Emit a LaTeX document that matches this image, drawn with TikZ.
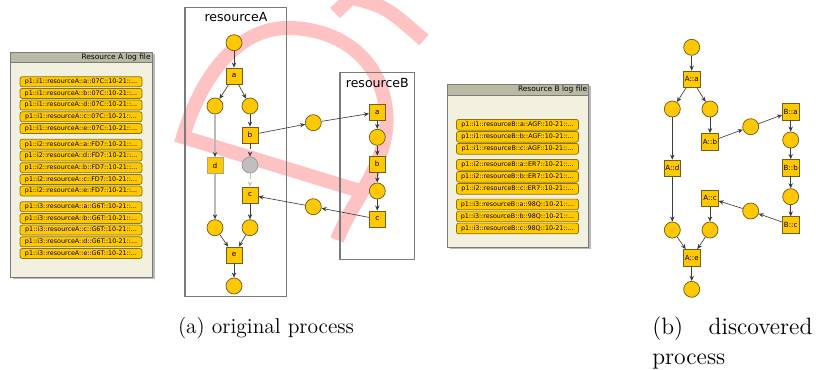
\documentclass[tikz,border=0pt]{standalone}
\usepackage{fontspec}
\setsansfont{DejaVu Sans}
\usepackage{tikz}
\usetikzlibrary{arrows.meta}
\definecolor{gold}{HTML}{FFC800}
\definecolor{place_border}{HTML}{6F5E1E}
\definecolor{entry_border}{HTML}{8A7410}
\definecolor{arc_gray}{HTML}{3C3C3C}
\definecolor{box_gray}{HTML}{7A7A7A}
\definecolor{log_back}{HTML}{F2F0DF}
\definecolor{log_head}{HTML}{B9B9A4}
\definecolor{wm_red}{HTML}{FFC2C2}

\begin{document}
\begin{tikzpicture}[x=0.55pt,y=-0.55pt,
    place/.style={circle,draw=place_border,fill=gold,minimum size=8.8pt,inner sep=0pt},
    trans/.style={rectangle,draw=place_border,fill=gold,minimum size=8.8pt,inner sep=0pt,font=\sffamily\fontsize{4}{4}\selectfont},
    dtrans/.style={trans,minimum size=9pt,font=\sffamily\fontsize{3.9}{4}\selectfont},
    arc/.style={-{Stealth[length=2.8pt,width=2.4pt]},draw=arc_gray,line width=0.35pt},
    lightarc/.style={-{Stealth[length=2.8pt,width=2.4pt,color=arc_gray]},draw=gray!55,line width=0.9pt},
    logline/.style={draw=entry_border,fill=gold,rounded corners=1.2pt,minimum width=67.1pt,minimum height=5.5pt,inner sep=0pt,font=\sffamily\fontsize{3.5}{4}\selectfont},
    loghead/.style={anchor=east,inner sep=0pt,font=\sffamily\fontsize{4.1}{5}\selectfont},
    boxtitle/.style={inner sep=0pt,font=\sffamily\fontsize{6.9}{8}\selectfont},
    stamp/.style={wm_red,line width=7.7pt}]
  \useasboundingbox (0,0) rectangle (816,370);

  % red stamp behind the drawing
  \draw[stamp] (337,240) .. controls (352,200) and (392,160) .. (386,110)
    .. controls (380,55) and (335,28) .. (288,28)
    .. controls (235,28) and (200,80) .. (183,137) -- (360,191);
  \draw[stamp] (335,13) -- (353,-4);
  \draw[stamp] (345,-4) .. controls (385,6) .. (424,40);

  % log file of resource A
  \fill[gray!55] (12.5,54.5) rectangle (154.5,279.5);
  \draw[box_gray,fill=log_back] (10,52) rectangle (152,277);
  \draw[box_gray,fill=log_head] (10,52) rectangle (152,62);
  \node[loghead] (hla) at (151,57.3) {Resource A log file};
  \node[logline] (la1) at (81,81.7) {p1::i1::resourceA::a::07C::10-21::...};
  \node[logline] (la2) at (81,93.4) {p1::i1::resourceA::b::07C::10-21::...};
  \node[logline] (la3) at (81,105.1) {p1::i1::resourceA::d::07C::10-21::...};
  \node[logline] (la4) at (81,116.8) {p1::i1::resourceA::c::07C::10-21::...};
  \node[logline] (la5) at (81,128.5) {p1::i1::resourceA::e::07C::10-21::...};
  \node[logline] (la6) at (81,144.3) {p1::i2::resourceA::a::FD7::10-21::...};
  \node[logline] (la7) at (81,156) {p1::i2::resourceA::d::FD7::10-21::...};
  \node[logline] (la8) at (81,167.7) {p1::i2::resourceA::b::FD7::10-21::...};
  \node[logline] (la9) at (81,179.4) {p1::i2::resourceA::c::FD7::10-21::...};
  \node[logline] (la10) at (81,191.1) {p1::i2::resourceA::e::FD7::10-21::...};
  \node[logline] (la11) at (81,206.7) {p1::i3::resourceA::a::G6T::10-21::...};
  \node[logline] (la12) at (81,218.4) {p1::i3::resourceA::b::G6T::10-21::...};
  \node[logline] (la13) at (81,230.1) {p1::i3::resourceA::c::G6T::10-21::...};
  \node[logline] (la14) at (81,241.8) {p1::i3::resourceA::d::G6T::10-21::...};
  \node[logline] (la15) at (81,253.5) {p1::i3::resourceA::e::G6T::10-21::...};

  % log file of resource B
  \fill[gray!55] (449.5,86.5) rectangle (591,249.5);
  \draw[box_gray,fill=log_back] (447,84) rectangle (588.5,247);
  \draw[box_gray,fill=log_head] (447,84) rectangle (588.5,95);
  \node[loghead] (hlb) at (587.5,89.5) {Resource B log file};
  \node[logline,minimum height=5.9pt] (lb1) at (517.5,124.8) {p1::i1::resourceB::a::AGF::10-21::...};
  \node[logline,minimum height=5.9pt] (lb2) at (517.5,136.8) {p1::i1::resourceB::b::AGF::10-21::...};
  \node[logline,minimum height=5.9pt] (lb3) at (517.5,148.8) {p1::i1::resourceB::c::AGF::10-21::...};
  \node[logline,minimum height=5.9pt] (lb4) at (517.5,164.8) {p1::i2::resourceB::a::ER7::10-21::...};
  \node[logline,minimum height=5.9pt] (lb5) at (517.5,176.8) {p1::i2::resourceB::b::ER7::10-21::...};
  \node[logline,minimum height=5.9pt] (lb6) at (517.5,188.8) {p1::i2::resourceB::c::ER7::10-21::...};
  \node[logline,minimum height=5.9pt] (lb7) at (517.5,204.5) {p1::i3::resourceB::a::98Q::10-21::...};
  \node[logline,minimum height=5.9pt] (lb8) at (517.5,216.5) {p1::i3::resourceB::b::98Q::10-21::...};
  \node[logline,minimum height=5.9pt] (lb9) at (517.5,228.5) {p1::i3::resourceB::c::98Q::10-21::...};

  % original process
  \draw[box_gray,line width=0.6pt] (185,7.3) rectangle (286.7,296.7);
  \draw[box_gray,line width=0.6pt] (340,72.7) rectangle (414.3,259.3);
  \node[boxtitle] (nra) at (236,17.3) {resourceA};
  \node[boxtitle] (nrb) at (377.3,83.3) {resourceB};
  \node[place] (a0) at (234,42.7) {};
  \node[trans] (ta) at (234,76) {a};
  \node[place] (a1) at (215,106) {};
  \node[place] (a2) at (250,106) {};
  \node[trans] (tb) at (250,135) {b};
  \node[place,fill=gray!50,draw=gray!80] (ag) at (250,165) {};
  \node[trans,draw=place_border!55] (td) at (215,165.5) {d};
  \node[trans] (tc) at (250,195) {c};
  \node[place] (a3) at (215,227.7) {};
  \node[place] (a4) at (250,227.7) {};
  \node[trans] (te) at (234,255) {e};
  \node[place] (a5) at (234,286) {};
  \node[place] (m1) at (313.3,122.7) {};
  \node[place] (m2) at (313.3,206.7) {};
  \node[trans] (tba) at (377.3,112.3) {a};
  \node[place] (b1) at (377.3,137.3) {};
  \node[trans] (tbb) at (377.3,164) {b};
  \node[place] (b2) at (377.3,191) {};
  \node[trans] (tbc) at (377.3,219) {c};
  \draw[arc] (a0) -- (ta);
  \draw[arc] (ta) -- (a1);
  \draw[arc] (ta) -- (a2);
  \draw[arc] (a2) -- (tb);
  \draw[arc,dashed] (tb) -- (ag);
  \draw[arc,dashed,draw=gray!50] (ag) -- (tc);
  \draw[lightarc] (a1) -- (td);
  \draw[lightarc] (td) -- (a3);
  \draw[arc] (tc) -- (a4);
  \draw[arc] (a3) -- (te);
  \draw[arc] (a4) -- (te);
  \draw[arc] (te) -- (a5);
  \draw[arc] (tb) -- (m1);
  \draw[arc] (m1) -- (tba);
  \draw[arc] (tba) -- (b1);
  \draw[arc] (b1) -- (tbb);
  \draw[arc] (tbb) -- (b2);
  \draw[arc] (b2) -- (tbc);
  \draw[arc] (tbc) -- (m2);
  \draw[arc] (m2) -- (tc);

  % discovered process
  \node[place] (d0) at (691.7,47.3) {};
  \node[dtrans] (dAa) at (691.7,79.3) {A::a};
  \node[place] (d1) at (672.3,109) {};
  \node[place] (d2) at (710,109) {};
  \node[dtrans] (dAb) at (710,141.7) {A::b};
  \node[place] (dm1) at (750.7,126.7) {};
  \node[dtrans] (dBa) at (790.7,111.7) {B::a};
  \node[place] (d3) at (790.7,140) {};
  \node[dtrans] (dBb) at (790.7,167.7) {B::b};
  \node[place] (d4) at (790.7,196.7) {};
  \node[dtrans] (dBc) at (790.7,225) {B::c};
  \node[place] (dm2) at (750.7,211) {};
  \node[dtrans] (dAc) at (710,198.3) {A::c};
  \node[dtrans] (dAd) at (672.3,168.3) {A::d};
  \node[place] (d5) at (672.3,230) {};
  \node[place] (d6) at (710,230) {};
  \node[dtrans] (dAe) at (691.7,257.7) {A::e};
  \node[place] (d7) at (691.7,289.3) {};
  \draw[arc] (d0) -- (dAa);
  \draw[arc] (dAa) -- (d1);
  \draw[arc] (dAa) -- (d2);
  \draw[arc] (d2) -- (dAb);
  \draw[arc] (dAb) -- (dm1);
  \draw[arc] (dm1) -- (dBa);
  \draw[arc] (dBa) -- (d3);
  \draw[arc] (d3) -- (dBb);
  \draw[arc] (dBb) -- (d4);
  \draw[arc] (d4) -- (dBc);
  \draw[arc] (dBc) -- (dm2);
  \draw[arc] (dm2) -- (dAc);
  \draw[arc] (dAc) -- (d6);
  \draw[arc] (d1) -- (dAd);
  \draw[arc] (dAd) -- (d5);
  \draw[arc] (d5) -- (dAe);
  \draw[arc] (d6) -- (dAe);
  \draw[arc] (dAe) -- (d7);

  % captions
  \node[anchor=base,inner sep=0pt,font=\fontsize{11.8}{15.5}\selectfont] (capa) at (266,334) {(a) original process};
  \node[anchor=base west,inner sep=0pt,text width=88pt,align=left,font=\fontsize{13}{16.5}\selectfont] (capb) at (652,335) {(b)\hfill discovered\\process};
\end{tikzpicture}
\end{document}
